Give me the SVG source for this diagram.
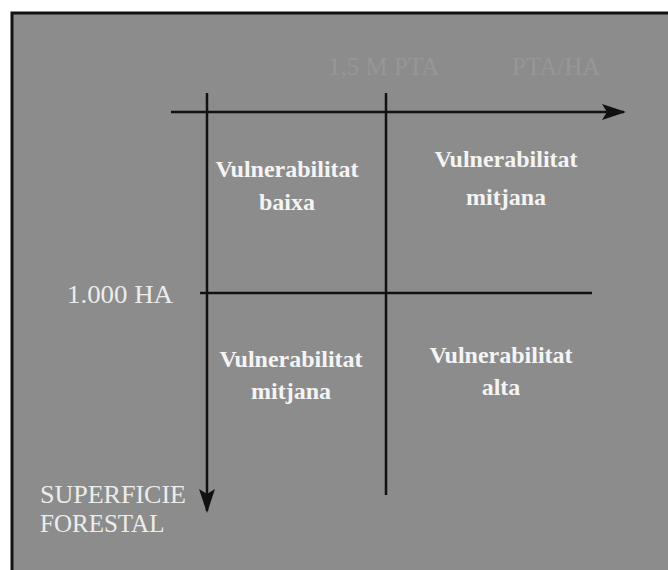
<svg xmlns="http://www.w3.org/2000/svg" width="668" height="570" viewBox="0 0 668 570">
<style>
.lbl{font-family:"Liberation Serif","Times New Roman",serif;font-size:25px;fill:#ececec}
.faint{font-family:"Liberation Serif","Times New Roman",serif;font-size:25px;fill:#979797}
.q{font-family:"Liberation Serif","Times New Roman",serif;font-size:24px;font-weight:bold;fill:#f4f4f4;text-anchor:middle}
.ln{stroke:#111;stroke-width:2.5;fill:none}
</style>
<defs>
<marker id="ah" viewBox="0 0 24 16" refX="22" refY="8" markerWidth="24" markerHeight="16" markerUnits="userSpaceOnUse" orient="auto">
<path d="M0,0 L24,8 L0,16 L5,8 Z" fill="#111"/>
</marker>
</defs>
<rect x="0" y="0" width="668" height="570" fill="#ffffff"/>
<rect id="frame" x="12" y="13" width="670" height="570" fill="#8c8c8c" stroke="#111" stroke-width="3"/>
<g id="connectors">
<line class="ln" x1="171" y1="112" x2="624" y2="112" marker-end="url(#ah)"/>
<line class="ln" x1="207" y1="93" x2="207" y2="511" marker-end="url(#ah)"/>
<line class="ln" x1="386" y1="93" x2="386" y2="495"/>
<line class="ln" x1="200" y1="293" x2="592" y2="293"/>
</g>
<g id="label-15mpta"><text class="faint" x="328" y="75">1,5 M PTA</text></g>
<g id="label-ptaha"><text class="faint" x="512" y="75">PTA/HA</text></g>
<g id="label-1000ha"><text class="lbl" x="67" y="303" textLength="106" lengthAdjust="spacingAndGlyphs">1.000 HA</text></g>
<g id="label-superficie"><text class="lbl" x="40" y="503" textLength="146" lengthAdjust="spacingAndGlyphs">SUPERFICIE</text><text class="lbl" x="40" y="532">FORESTAL</text></g>
<g id="q-top-left"><text class="q" x="287" y="177">Vulnerabilitat</text><text class="q" x="287" y="210">baixa</text></g>
<g id="q-top-right"><text class="q" x="506" y="167">Vulnerabilitat</text><text class="q" x="506" y="205">mitjana</text></g>
<g id="q-bottom-left"><text class="q" x="291" y="367">Vulnerabilitat</text><text class="q" x="291" y="399">mitjana</text></g>
<g id="q-bottom-right"><text class="q" x="501" y="363">Vulnerabilitat</text><text class="q" x="501" y="395">alta</text></g>
</svg>
